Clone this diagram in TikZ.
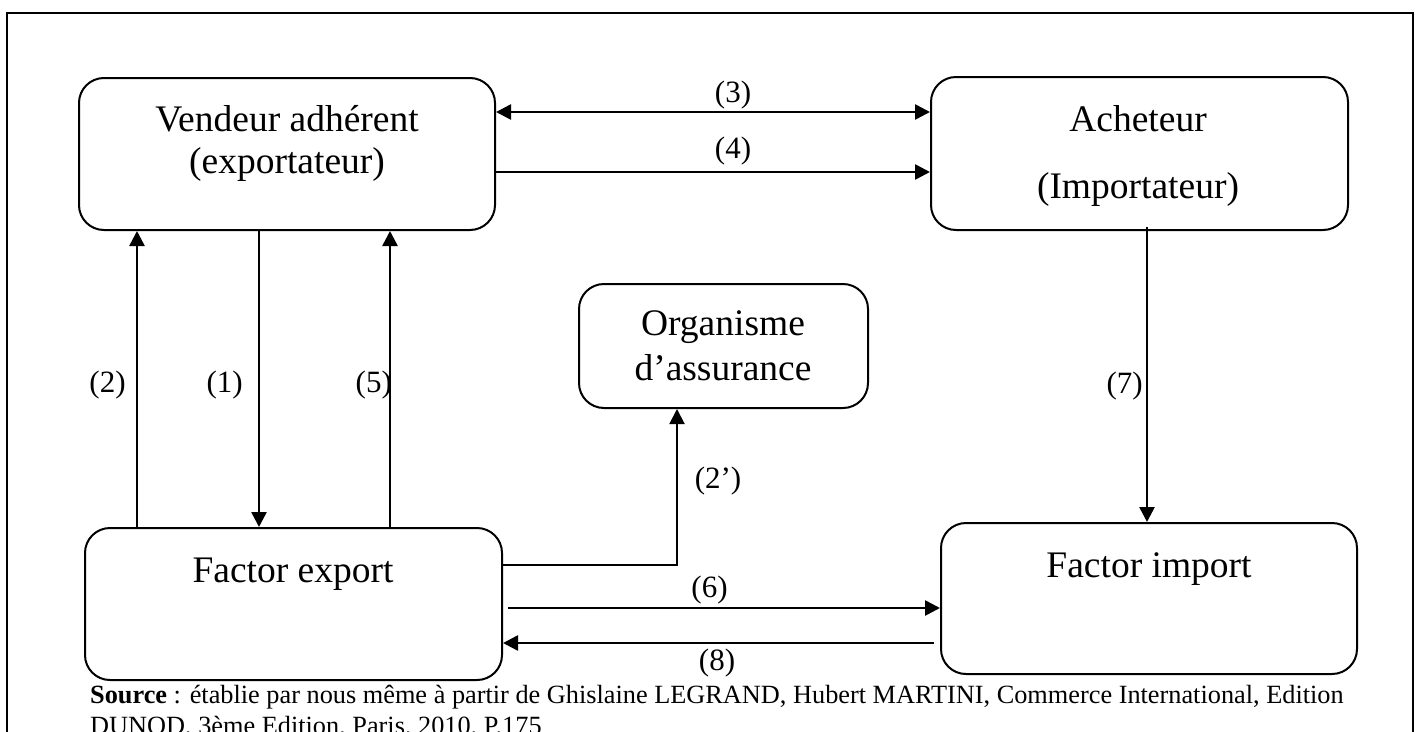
\documentclass[tikz,border=0pt]{standalone}
\usepackage{fontspec}
\setmainfont{Liberation Serif}
\usetikzlibrary{arrows.meta}
\begin{document}
\begin{tikzpicture}[x=1pt,y=-1pt,
  box/.style={draw,line width=2pt,rounded corners=25pt,inner sep=0pt},
  boxtext/.style={font=\fontsize{37.5}{45}\selectfont,anchor=base,inner sep=0pt},
  lbl/.style={font=\fontsize{31}{36}\selectfont,anchor=base,inner sep=0pt},
  srctext/.style={font=\fontsize{26.3}{31}\selectfont,anchor=base west,inner sep=0pt},
  link/.style={line width=2.6pt},
  arr/.style={link,-{Triangle[length=15pt,width=15pt]}},
  arrboth/.style={link,{Triangle[length=15pt,width=15pt]}-{Triangle[length=15pt,width=15pt]}}]
\useasboundingbox (0,0) rectangle (1421,731);
% outer frame (runs past the lower edge of the page)
\draw[line width=2.5pt] (7,780) -- (7,13) -- (1413,13) -- (1413,780);

% boxes
\node[box,minimum width=416pt,minimum height=152pt] (vend) at (287,154) {};
\node[box,minimum width=417pt,minimum height=153pt] (ach)  at (1139.5,153.5) {};
\node[box,minimum width=289pt,minimum height=124pt] (org)  at (723.5,346) {};
\node[box,minimum width=417pt,minimum height=152pt] (fexp) at (293.5,604) {};
\node[box,minimum width=416pt,minimum height=151pt] (fimp) at (1149,598.5) {};

% box texts
\node[boxtext] (vendA) at (287,131) {Vendeur adhérent};
\node[boxtext] (vendB) at (287,173) {(exportateur)};
\node[boxtext] (achA)  at (1138,131) {Acheteur};
\node[boxtext] (achB)  at (1138,198) {(Importateur)};
\node[boxtext] (orgA)  at (723,335) {Organisme};
\node[boxtext] (orgB)  at (723,380) {d’assurance};
\node[boxtext] (fexpA) at (293,582) {Factor export};
\node[boxtext] (fimpA) at (1149,577) {Factor import};

% connector rows and columns
\coordinate (row3) at (0,112);
\coordinate (row4) at (0,172);
\coordinate (row2p) at (0,565);
\coordinate (row6) at (0,608);
\coordinate (row8) at (0,643);
\coordinate (col2) at (137,0);
\coordinate (col1) at (259,0);
\coordinate (col5) at (390,0);
\coordinate (col2p) at (677,0);
\coordinate (col7) at (1147,0);

% connectors
\draw[arrboth] (row3 -| vend.east) -- (row3 -| ach.west);
\draw[arr] (row4 -| vend.east) -- (row4 -| ach.west);
\draw[arr] (col2 |- fexp.north) -- (col2 |- vend.south);
\draw[arr] (col1 |- vend.south) -- (col1 |- fexp.north);
\draw[arr] (col5 |- fexp.north) -- (col5 |- vend.south);
\draw[link,line width=2pt,-{Triangle[length=15pt,width=15pt]}] (row2p -| fexp.east) -| (col2p |- org.south);
\draw[arr] ([yshift=4pt]col7 |- ach.south) -- (col7 |- fimp.north);
\draw[arr] ([xshift=5pt]row6 -| fexp.east) -- (row6 -| fimp.west);
\draw[arr] ([xshift=-6pt]row8 -| fimp.west) -- (row8 -| fexp.east);

% connector labels
\node[lbl] (l3) at (733,102) {(3)};
\node[lbl] (l4) at (733,158) {(4)};
\node[lbl] (l2) at (107.5,392) {(2)};
\node[lbl] (l1) at (224.7,392) {(1)};
\node[lbl] (l5) at (373.8,392) {(5)};
\node[lbl] (l2p) at (718,488) {(2’)};
\node[lbl] (l7) at (1124.7,393) {(7)};
\node[lbl] (l6) at (709.5,597) {(6)};
\node[lbl] (l8) at (717,670) {(8)};

% source note
\node[srctext] (src1) at (90,703) {\textbf{Source} : établie par nous même à partir de Ghislaine LEGRAND, Hubert MARTINI, Commerce International, Edition};
\node[srctext] (src2) at (90,734) {DUNOD, 3ème Edition, Paris, 2010, P.175};
\end{tikzpicture}
\end{document}
